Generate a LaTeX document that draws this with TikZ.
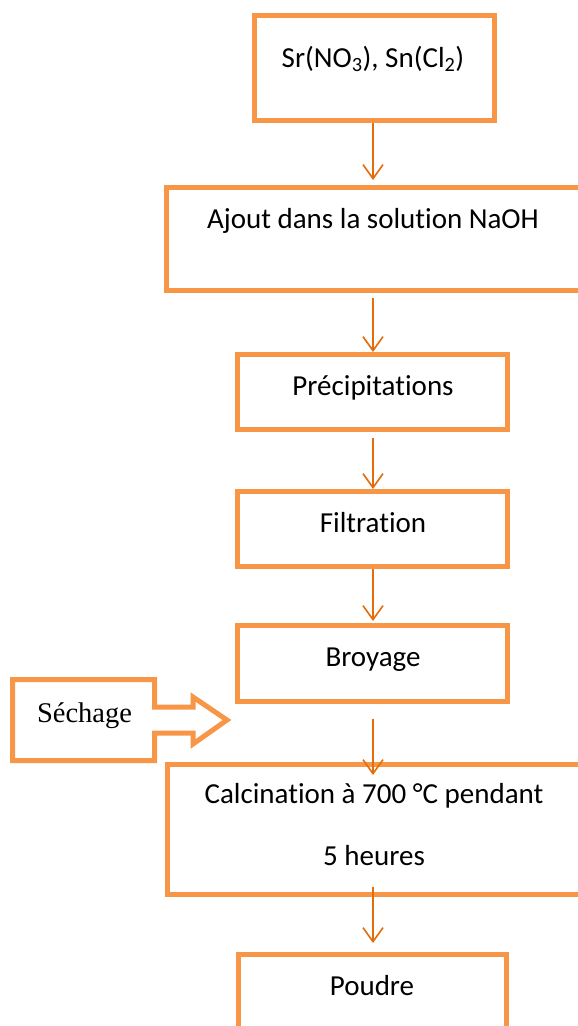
\documentclass[tikz,border=0pt]{standalone}
\usepackage{fontspec}
\setmainfont{Carlito}[Ligatures=CommonOff]
\newfontfamily\timesfont{Liberation Serif}
\usetikzlibrary{arrows.meta,calc}
\definecolor{boxorange}{HTML}{F79646}
\definecolor{arroworange}{HTML}{E46C0A}
\tikzset{
  >={Straight Barb[length=14pt,width=20pt]},
  stage/.style={draw=boxorange, line width=5pt, inner sep=0pt},
  txt/.style={anchor=base, inner sep=0pt, font=\fontsize{29}{35}\selectfont},
  flow/.style={->, draw=arroworange, line width=1.6pt},
}
\begin{document}
\begin{tikzpicture}[x=1pt,y=-1pt]
  \useasboundingbox (0,0) rectangle (578,1026);
  \clip (0,0) rectangle (578,1026);
  \coordinate (axis) at (373,0);
  % boxes
  \node[stage, minimum width=240pt, minimum height=105pt] (src) at (374.5,68) {};
  \node[stage, minimum width=453.5pt, minimum height=103pt] (naoh) at (393.25,239) {};
  \node[stage, minimum width=270pt, minimum height=75pt] (prec) at (372.5,392) {};
  \node[stage, minimum width=270pt, minimum height=75pt] (filt) at (372.5,529) {};
  \node[stage, minimum width=270pt, minimum height=76pt] (broy) at (372.5,663.5) {};
  \node[stage, minimum width=452.5pt, minimum height=130pt] (calc) at (393.75,829.5) {};
  \node[stage, minimum width=268pt, minimum height=145.5pt] (poud) at (372.5,1027.25) {};
  % texts
  \node[txt] (tsrc) at (373,67) {Sr(NO\textsubscript{3}), Sn(Cl\textsubscript{2})};
  \node[txt] (tnaoh) at (373,228) {Ajout dans la solution NaOH};
  \node[txt] (tprec) at (373,395) {Précipitations};
  \node[txt] (tfilt) at (373,532) {Filtration};
  \node[txt] (tbroy) at (373,666) {Broyage};
  \node[txt] (tcalc) at (374,803) {Calcination à 700 °C pendant};
  \node[txt] (tcalcb) at (374,865) {5 heures};
  \node[txt] (tpoud) at (372,995) {Poudre};
  % drying block arrow
  \draw[draw=boxorange, line width=5pt, line join=miter]
    (12.5,679.5) -- (154.5,679.5) -- (154.5,707) -- (193,707) -- (193,697)
    -- (227,720) -- (193,744) -- (193,733) -- (154.5,733) -- (154.5,760.5)
    -- (12.5,760.5) -- cycle;
  \node[txt, font=\timesfont\fontsize{28.5}{34}\selectfont] (tsech) at (84.5,722) {Séchage};
  % connectors
  \draw[flow] (src.south -| axis) -- ($(naoh.north -| axis)+(0,-5)$);
  \draw[flow] ($(naoh.south -| axis)+(0,5)$) -- (prec.north -| axis);
  \draw[flow] ($(prec.south -| axis)+(0,6)$) -- (filt.north -| axis);
  \draw[flow] (filt.south -| axis) -- ($(broy.north -| axis)+(0,-2)$);
  \draw[flow] ($(broy.south -| axis)+(0,15)$) -- ($(calc.north -| axis)+(0,13)$);
  \draw[flow] ($(calc.south -| axis)+(0,-10)$) -- ($(poud.north -| axis)+(0,-9)$);
\end{tikzpicture}
\end{document}
